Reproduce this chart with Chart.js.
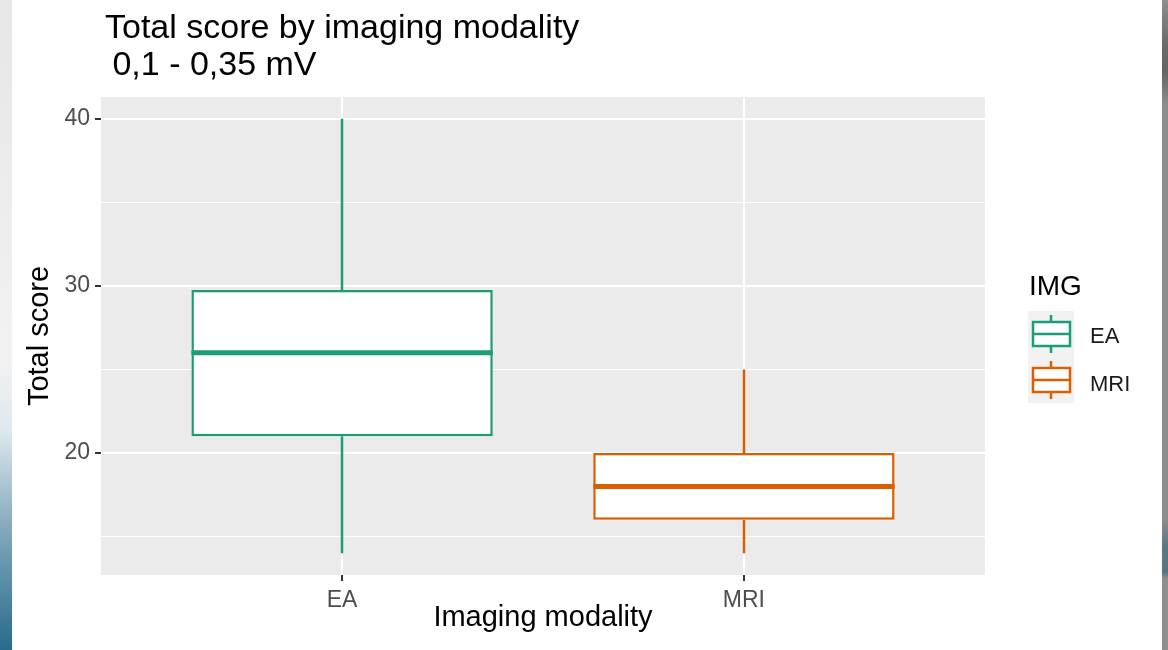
<!DOCTYPE html>
<html>
<head>
<meta charset="utf-8">
<script src="https://cdn.jsdelivr.net/npm/chart.js@4.4.1/dist/chart.umd.min.js"></script>
<style>
  html, body { margin: 0; padding: 0; background: #fff; }
  #wrap { position: relative; width: 1168px; height: 650px; overflow: hidden; }
  canvas { display: block; }
  .edge-left { position: absolute; left: 0; top: 0; width: 12px; height: 650px;
    background: linear-gradient(#e6e6e6 0%, #f2f2f2 55%, #dfe9ee 66%, #7fa6ba 82%, #276b8c 100%); }
  .edge-right { position: absolute; right: 0; top: 0; width: 6px; height: 650px;
    background: linear-gradient(#8e8e8e 0%, #6a6a6a 7%, #646464 11%, #8c8c8c 16%, #8c8c8c 80%, #5d7884 84%, #587482 88%, #8e8e8e 89%, #8e8e8e 100%); }
</style>
</head>
<body>
<div id="wrap">
  <canvas id="chart" width="1168" height="650"></canvas>
  <div class="edge-left"></div>
  <div class="edge-right"></div>
</div>
<script>
// ---------- Data ----------
const categories = ["EA", "MRI"];
const whiskerLow = [14, 14];
const q1 = [21, 16];
const medians = [26, 18];
const q3 = [29.75, 20];
const whiskerHigh = [40, 25];
const yTicks = [15, 20, 25, 30, 35, 40];
const colors = ["#1b9e77", "#d95f02"];

const FONT = "'Liberation Sans', Arial, sans-serif";
const lo = Math.min(...whiskerLow), hi = Math.max(...whiskerHigh);
const pad = (hi - lo) * 0.05;

// ---------- Plugins ----------
const panelBg = {
  id: "panelBg",
  beforeDraw(chart) {
    const { ctx, chartArea: a } = chart;
    ctx.save();
    ctx.fillStyle = "#ebebeb";
    ctx.fillRect(a.left, a.top, a.right - a.left, a.bottom - a.top);
    ctx.restore();
  },
};

// whiskers under the boxes, medians on top
const boxParts = {
  id: "boxParts",
  beforeDatasetsDraw(chart) {
    const { ctx, scales: { x, y } } = chart;
    ctx.save();
    ctx.lineWidth = 2.5;
    categories.forEach((c, i) => {
      const px = Math.round(x.getPixelForValue(i + 1));
      ctx.strokeStyle = colors[i];
      ctx.beginPath();
      ctx.moveTo(px, y.getPixelForValue(whiskerLow[i]));
      ctx.lineTo(px, y.getPixelForValue(q1[i]));
      ctx.moveTo(px, y.getPixelForValue(q3[i]));
      ctx.lineTo(px, y.getPixelForValue(whiskerHigh[i]));
      ctx.stroke();
    });
    ctx.restore();
  },
  afterDatasetsDraw(chart) {
    const { ctx, scales: { y } } = chart;
    const bars = chart.getDatasetMeta(0).data;
    ctx.save();
    ctx.lineWidth = 5;
    bars.forEach((bar, i) => {
      const py = y.getPixelForValue(medians[i]);
      ctx.strokeStyle = colors[i];
      ctx.beginPath();
      ctx.moveTo(bar.x - bar.width / 2, py);
      ctx.lineTo(bar.x + bar.width / 2, py);
      ctx.stroke();
    });
    ctx.restore();
  },
};

const titleAndLegend = {
  id: "titleAndLegend",
  afterDraw(chart) {
    const { ctx } = chart;
    ctx.save();
    ctx.fillStyle = "#000";
    ctx.textBaseline = "alphabetic";
    ctx.font = `34px ${FONT}`;
    ctx.fillText("Total score by imaging modality", 105, 38);
    ctx.fillText(" 0,1 - 0,35 mV", 103, 75);

    // legend
    ctx.font = `28px ${FONT}`;
    ctx.fillText("IMG", 1029, 295);
    const kx = 1028, ky = 311, kw = 46, kh = 46;
    ctx.fillStyle = "#f2f2f2";
    ctx.fillRect(kx, ky, kw, kh * categories.length);
    categories.forEach((c, i) => {
      const cy = ky + kh * i + kh / 2;
      const cx = kx + kw / 2;
      ctx.strokeStyle = colors[i];
      ctx.fillStyle = "#fff";
      ctx.lineWidth = 2.5;
      ctx.fillRect(kx + 5, cy - 12, kw - 9, 24);
      ctx.strokeRect(kx + 5, cy - 12, kw - 9, 24);
      ctx.beginPath();
      ctx.moveTo(cx, cy - 19); ctx.lineTo(cx, cy - 12);
      ctx.moveTo(cx, cy + 12); ctx.lineTo(cx, cy + 19);
      ctx.moveTo(kx + 5, cy); ctx.lineTo(kx + kw - 4, cy);
      ctx.stroke();
      ctx.fillStyle = "#1a1a1a";
      ctx.font = `22px ${FONT}`;
      ctx.fillText(c, 1090, cy + 9 + i * 2);
    });
    ctx.restore();
  },
};

// ---------- Chart ----------
new Chart(document.getElementById("chart"), {
  type: "bar",
  data: {
    datasets: [{
      data: categories.map((c, i) => ({ x: i + 1, y: [q1[i], q3[i]] })),
      backgroundColor: "#ffffff",
      borderColor: colors,
      borderWidth: 2.5,
      borderSkipped: false,
      categoryPercentage: 0.75,
      barPercentage: 1,
    }],
  },
  options: {
    responsive: false,
    animation: false,
    layout: { padding: { top: 97, right: 183, left: 0, bottom: 0 } },
    plugins: { legend: { display: false }, tooltip: { enabled: false } },
    scales: {
      x: {
        type: "linear",
        offset: false,
        min: 0.4,
        max: 2.6,
        afterBuildTicks: (s) => { s.ticks = categories.map((c, i) => ({ value: i + 1 })); },
        afterFit: (s) => { s.height = 75; },
        ticks: {
          callback: (v) => categories[v - 1] ?? "",
          color: "#4d4d4d",
          font: { family: FONT, size: 23 },
          padding: 6,
          maxRotation: 0,
          autoSkip: false,
        },
        grid: { offset: false, color: "#ffffff", lineWidth: 2, tickColor: "#333333", tickLength: 6, tickWidth: 2 },
        border: { display: false },
        title: {
          display: true,
          text: "Imaging modality",
          color: "#000",
          font: { family: FONT, size: 29 },
          padding: { top: 0, bottom: 15 },
        },
      },
      y: {
        min: lo - pad,
        max: hi + pad,
        afterBuildTicks: (s) => { s.ticks = yTicks.map((v) => ({ value: v })); },
        afterFit: (s) => { s.width = 101; },
        ticks: {
          callback: (v) => (v % 10 === 0 ? v : ""),
          color: "#4d4d4d",
          font: { family: FONT, size: 23 },
          padding: 5,
        },
        grid: {
          color: "#ffffff",
          lineWidth: (c) => (c.tick && c.tick.value % 10 === 0 ? 2 : 1),
          tickColor: (c) => (c.tick && c.tick.value % 10 === 0 ? "#333333" : "rgba(0,0,0,0)"),
          tickLength: 6,
          tickWidth: 2,
        },
        border: { display: false },
        title: {
          display: true,
          text: "Total score",
          color: "#000",
          font: { family: FONT, size: 29 },
          padding: { top: 23, bottom: 0 },
        },
      },
    },
  },
  plugins: [panelBg, boxParts, titleAndLegend],
});
</script>
</body>
</html>
